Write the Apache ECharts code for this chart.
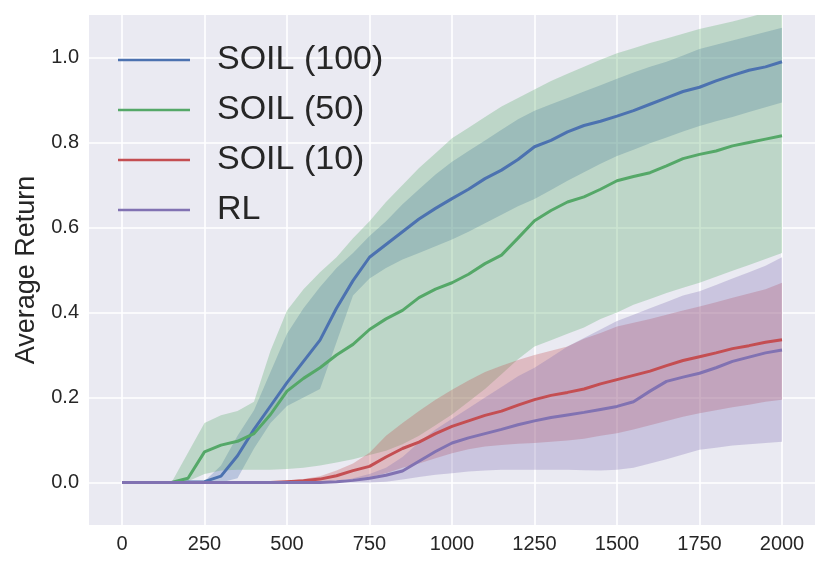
<!DOCTYPE html>
<html lang="en">
<head>
    <meta charset="UTF-8">
    <title>Average Return</title>
    <script src="https://cdn.jsdelivr.net/npm/echarts@6.0.0/dist/echarts.min.js"></script>
    <style>
        html, body { margin: 0; padding: 0; background: #fff; }
        #chart { width: 830px; height: 571px; }
    </style>
</head>
<body>
<div id="chart"></div>
<script type="text/javascript">
    // x positions (training step), one value every 50
    var steps = [0, 50, 100, 150, 200, 250, 300, 350, 400, 450, 500, 550, 600, 650, 700, 750, 800, 850, 900, 950,
        1000, 1050, 1100, 1150, 1200, 1250, 1300, 1350, 1400, 1450, 1500, 1550, 1600, 1650, 1700, 1750, 1800, 1850, 1900, 1950, 2000];

    var xTicks = [0, 250, 500, 750, 1000, 1250, 1500, 1750, 2000];
    var yTicks = [0, 0.2, 0.4, 0.6, 0.8, 1.0];

    var soil100 = [0, 0, 0, 0, 0.001, 0.002, 0.015, 0.063, 0.125, 0.18, 0.235, 0.285, 0.335, 0.41, 0.475, 0.53, 0.56, 0.59, 0.62, 0.645,
        0.668, 0.69, 0.715, 0.735, 0.76, 0.79, 0.805, 0.825, 0.84, 0.85, 0.862, 0.875, 0.89, 0.905, 0.92, 0.93, 0.945, 0.958, 0.97, 0.978, 0.99];
    var soil100Lo = [0, 0, 0, 0, 0, 0, 0, 0.01, 0.08, 0.14, 0.18, 0.2, 0.22, 0.33, 0.44, 0.48, 0.505, 0.525, 0.54, 0.556,
        0.572, 0.59, 0.61, 0.63, 0.65, 0.667, 0.688, 0.71, 0.73, 0.75, 0.768, 0.783, 0.798, 0.812, 0.826, 0.839, 0.85, 0.86, 0.872, 0.883, 0.894];
    var soil100Hi = [0, 0, 0, 0, 0, 0.003, 0.04, 0.11, 0.17, 0.26, 0.35, 0.41, 0.46, 0.505, 0.54, 0.58, 0.615, 0.655, 0.69, 0.725,
        0.755, 0.78, 0.805, 0.83, 0.855, 0.875, 0.89, 0.905, 0.92, 0.935, 0.95, 0.965, 0.978, 0.99, 1.005, 1.02, 1.03, 1.04, 1.05, 1.06, 1.07];

    var soil50 = [0, 0, 0, 0, 0.01, 0.072, 0.088, 0.097, 0.115, 0.16, 0.215, 0.245, 0.27, 0.3, 0.325, 0.36, 0.385, 0.405, 0.435, 0.455,
        0.47, 0.49, 0.515, 0.535, 0.575, 0.616, 0.64, 0.66, 0.672, 0.69, 0.71, 0.72, 0.729, 0.745, 0.762, 0.772, 0.78, 0.792, 0.8, 0.808, 0.816];
    var soil50Lo = [0, 0, 0, 0, 0.003, 0.02, 0.028, 0.03, 0.03, 0.03, 0.032, 0.035, 0.04, 0.047, 0.055, 0.065, 0.075, 0.09, 0.11, 0.135,
        0.16, 0.19, 0.22, 0.255, 0.29, 0.32, 0.335, 0.35, 0.365, 0.385, 0.4, 0.418, 0.432, 0.446, 0.458, 0.47, 0.484, 0.498, 0.512, 0.526, 0.54];
    var soil50Hi = [0, 0, 0, 0, 0.07, 0.14, 0.158, 0.168, 0.19, 0.31, 0.405, 0.455, 0.495, 0.53, 0.575, 0.615, 0.66, 0.7, 0.74, 0.775,
        0.81, 0.835, 0.86, 0.885, 0.905, 0.925, 0.945, 0.962, 0.978, 0.995, 1.01, 1.022, 1.034, 1.045, 1.056, 1.067, 1.076, 1.085, 1.095, 1.105, 1.12];

    var soil10 = [0, 0, 0, 0, 0, 0, 0, 0, 0, 0, 0.002, 0.004, 0.008, 0.016, 0.028, 0.038, 0.06, 0.08, 0.095, 0.115,
        0.132, 0.145, 0.158, 0.168, 0.182, 0.195, 0.205, 0.212, 0.22, 0.232, 0.242, 0.252, 0.262, 0.275, 0.287, 0.296, 0.305, 0.315, 0.322, 0.33, 0.336];
    var soil10Lo = [0, 0, 0, 0, 0, 0, 0, 0, 0, 0, 0, 0, 0.002, 0.005, 0.008, 0.013, 0.022, 0.035, 0.045, 0.057,
        0.069, 0.078, 0.085, 0.088, 0.091, 0.093, 0.096, 0.099, 0.103, 0.11, 0.116, 0.125, 0.135, 0.145, 0.155, 0.163, 0.17, 0.177, 0.183, 0.19, 0.195];
    var soil10Hi = [0, 0, 0, 0, 0, 0, 0, 0, 0, 0, 0.004, 0.008, 0.015, 0.028, 0.045, 0.07, 0.11, 0.14, 0.168, 0.195,
        0.218, 0.24, 0.26, 0.275, 0.288, 0.3, 0.31, 0.32, 0.338, 0.352, 0.367, 0.376, 0.385, 0.395, 0.405, 0.414, 0.424, 0.435, 0.445, 0.455, 0.47];

    var rl = [0, 0, 0, 0, 0, 0, 0, 0, 0, 0, 0, 0, 0, 0.002, 0.005, 0.01, 0.017, 0.027, 0.05, 0.073,
        0.093, 0.105, 0.115, 0.125, 0.136, 0.145, 0.153, 0.159, 0.165, 0.172, 0.179, 0.19, 0.215, 0.238, 0.248, 0.257, 0.27, 0.285, 0.295, 0.305, 0.312];
    var rlLo = [0, 0, 0, 0, 0, 0, 0, 0, 0, 0, 0, 0, 0, 0, 0, 0, 0.002, 0.007, 0.013, 0.018,
        0.022, 0.026, 0.028, 0.03, 0.03, 0.03, 0.03, 0.03, 0.029, 0.028, 0.03, 0.035, 0.045, 0.055, 0.066, 0.077, 0.082, 0.087, 0.09, 0.093, 0.096];
    var rlHi = [0, 0, 0, 0, 0, 0, 0, 0, 0, 0, 0, 0, 0, 0, 0.01, 0.02, 0.035, 0.06, 0.095, 0.125,
        0.15, 0.175, 0.2, 0.225, 0.25, 0.27, 0.295, 0.32, 0.34, 0.36, 0.38, 0.395, 0.41, 0.425, 0.44, 0.45, 0.465, 0.48, 0.495, 0.51, 0.53];

    var names = ['SOIL (100)', 'SOIL (50)', 'SOIL (10)', 'RL'];
    var colors = ['#4C72B0', '#55A868', '#C44E52', '#8172B2'];

    var font = "'Liberation Sans', Arial, sans-serif";
    var chart = echarts.init(document.getElementById('chart'));

    function pairs(ys) {
        return steps.map(function (x, i) { return [x, ys[i]]; });
    }

    // shaded band between lo and hi, drawn as one polygon
    function band(name, lo, hi, color) {
        var rows = steps.map(function (x, i) { return [x, lo[i], hi[i]]; });
        return {
            type: 'custom',
            name: name + ' band',
            silent: true,
            z: 1,
            data: rows,
            encode: {x: 0, y: [1, 2]},
            renderItem: function (params, api) {
                if (params.dataIndex !== 0) return null;
                var top = [], bottom = [];
                for (var i = 0; i < rows.length; i++) {
                    top.push(api.coord([rows[i][0], rows[i][2]]));
                    bottom.unshift(api.coord([rows[i][0], rows[i][1]]));
                }
                var cs = params.coordSys;
                return {
                    type: 'polygon',
                    shape: {points: top.concat(bottom)},
                    style: {fill: color, opacity: 0.3},
                    clipPath: {type: 'rect', shape: {x: cs.x, y: cs.y, width: cs.width, height: cs.height}}
                };
            }
        };
    }

    function line(name, ys, color) {
        return {
            type: 'line',
            name: name,
            data: pairs(ys),
            showSymbol: false,
            symbol: 'none',
            z: 3,
            lineStyle: {color: color, width: 3},
            itemStyle: {color: color}
        };
    }

    var option = {
        animation: false,
        textStyle: {fontFamily: font},
        grid: {
            left: 89, right: 15, top: 15, bottom: 46,
            show: true, backgroundColor: '#EAEAF2', borderWidth: 0
        },
        legend: {
            data: names,
            orient: 'vertical',
            left: 118,
            top: 40,
            padding: 0,
            itemGap: 10,
            itemWidth: 72,
            itemHeight: 2.5,
            icon: 'rect',
            textStyle: {fontSize: 34, lineHeight: 40, color: '#262626', fontFamily: font, padding: [0, 0, 0, 22]}
        },
        xAxis: {
            type: 'value',
            min: -100,
            max: 2100,
            axisLine: {show: false},
            axisTick: {show: false, customValues: xTicks},
            axisLabel: {
                customValues: xTicks, fontSize: 20, color: '#262626', margin: 9, fontFamily: font,
                formatter: function (v) { return String(v); }
            },
            splitLine: {show: true, lineStyle: {color: '#ffffff', width: 1.6}}
        },
        yAxis: {
            type: 'value',
            min: -0.1,
            max: 1.1,
            name: 'Average Return',
            nameLocation: 'middle',
            nameGap: 47,
            nameTextStyle: {fontSize: 27, color: '#262626', fontFamily: font},
            axisLine: {show: false},
            axisTick: {show: false, customValues: yTicks},
            axisLabel: {
                customValues: yTicks, fontSize: 20, color: '#262626', margin: 10, fontFamily: font,
                formatter: function (v) { return v.toFixed(1); }
            },
            splitLine: {show: true, lineStyle: {color: '#ffffff', width: 1.6}}
        },
        series: [
            band(names[0], soil100Lo, soil100Hi, colors[0]),
            band(names[1], soil50Lo, soil50Hi, colors[1]),
            band(names[2], soil10Lo, soil10Hi, colors[2]),
            band(names[3], rlLo, rlHi, colors[3]),
            line(names[0], soil100, colors[0]),
            line(names[1], soil50, colors[1]),
            line(names[2], soil10, colors[2]),
            line(names[3], rl, colors[3])
        ]
    };
    chart.setOption(option);
</script>
</body>
</html>
